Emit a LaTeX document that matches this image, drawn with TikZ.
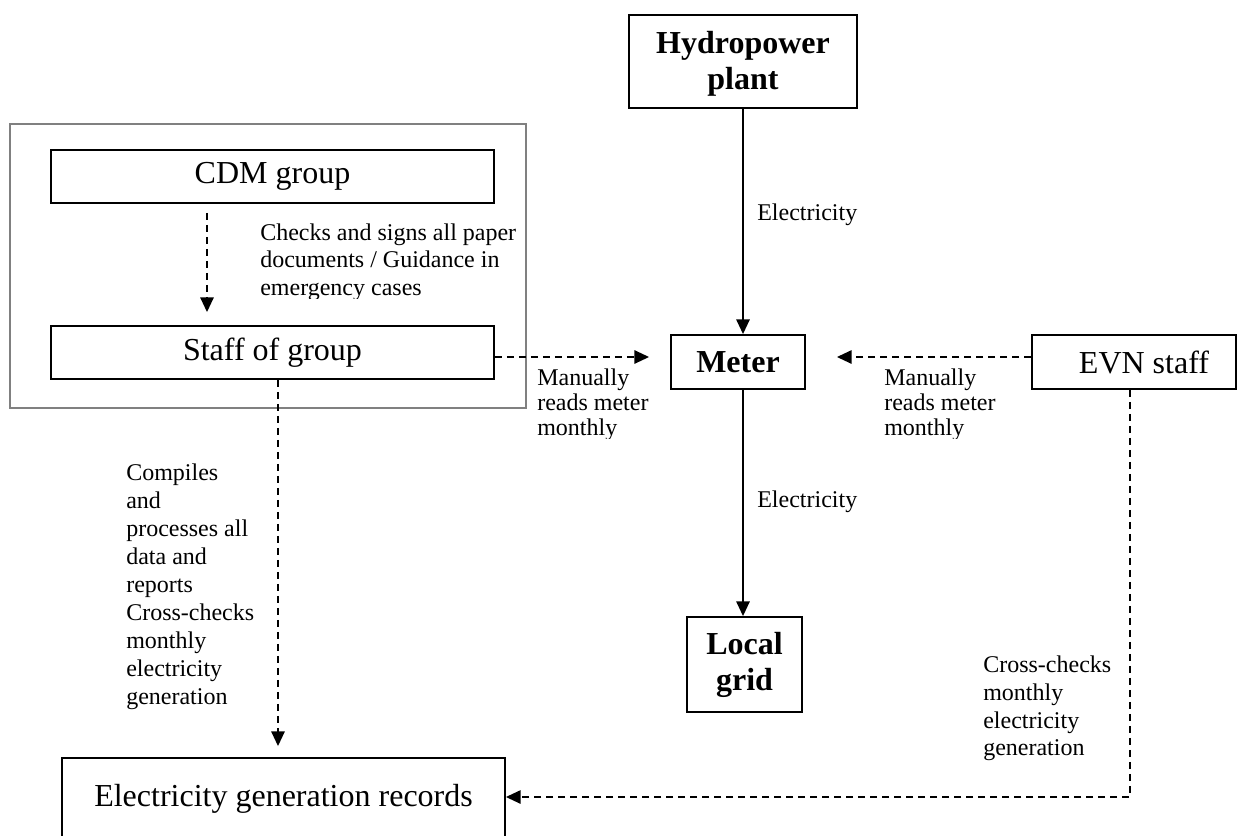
\documentclass[tikz,border=0pt]{standalone}
\usepackage{fontspec}
\setmainfont{Liberation Serif}
\usetikzlibrary{arrows.meta,calc}
\begin{document}
\begin{tikzpicture}[x=0.75pt,y=-0.75pt,
  box/.style={draw=black,line width=1.4pt,inner sep=0pt,align=center},
  big/.style={font=\fontsize{24}{26}\selectfont},
  bigb/.style={font=\fontsize{24}{27}\selectfont\bfseries},
  lbl/.style={inner sep=0pt,align=left,anchor=west},
  flow/.style={line width=1.3pt,-{Triangle[length=11pt,width=10pt]}},
  dflow/.style={flow,dash pattern=on 5.5pt off 3.5pt},
  grp/.style={draw=black!50,line width=1.3pt,inner sep=0pt}]
\useasboundingbox (0,0) rectangle (1237,835);

% group frame
\node[grp,minimum width=387pt,minimum height=213pt] (grp) at (268,266) {};

% boxes
\node[box,big,minimum width=332.25pt,minimum height=39.75pt] (cdm) at (272.5,176.5) {CDM group};
\node[box,big,minimum width=332.25pt,minimum height=39.75pt] (staff) at (272.5,352.5) {Staff of group};
\node[box,bigb,minimum width=171pt,minimum height=69.75pt] (hydro) at (743,61.5) {\rule{0pt}{20pt}Hydropower\\plant};
\node[box,bigb,minimum width=100.5pt,minimum height=40.5pt] (meter) at (738,362) {Meter};
\node[box,bigb,minimum width=86.25pt,minimum height=71.25pt] (grid) at (744.5,664.5) {Local\\grid};
\node[box,big,minimum width=153pt,minimum height=40.5pt] (evn) at (1134,362) {\hspace*{15pt}EVN staff};
\node[box,big,minimum width=332.25pt,minimum height=61.5pt] (rec) at (283.5,799) {Electricity generation records};

% helper coordinates
\coordinate (xa) at (207,0);
\coordinate (ya) at (0,357);
\coordinate (xb) at (278,0);
\coordinate (xc) at (1130,0);
\coordinate (yc) at (0,797);

% connectors
\draw[dflow,shorten <=6.75pt,shorten >=9.75pt] (cdm.south -| xa) -- (staff.north -| xa);
\draw[dflow,shorten >=15.75pt] (staff.east |- ya) -- (meter.west |- ya);
\draw[dflow,shorten >=23.25pt] (evn.west |- ya) -- (meter.east |- ya);
\draw[flow] (hydro.south) -- (hydro.south |- meter.north);
\draw[flow] (hydro.south |- meter.south) -- (hydro.south |- grid.north);
\draw[dflow,shorten >=8.25pt] (staff.south -| xb) -- (rec.north -| xb);
\draw[dflow] (evn.south -| xc) -- (xc |- yc) -- (rec.east |- yc);

% labels
\node[lbl,font=\fontsize{18}{21}\selectfont] (l1) at (757,215) {Electricity};
\node[lbl,font=\fontsize{18}{21}\selectfont] (l2) at (757,502) {Electricity};
\begin{scope}
\clip (250,200) rectangle (540,298);
\node[lbl,font=\fontsize{18}{20.6}\selectfont] (l3) at (260,262) {Checks and signs all paper\\documents / Guidance in\\emergency cases};
\end{scope}
\begin{scope}
\clip (530,360) rectangle (660,438);
\node[lbl,font=\fontsize{18}{18.75}\selectfont] (l4) at (537,405) {Manually\\reads meter\\monthly};
\end{scope}
\begin{scope}
\clip (875,360) rectangle (1030,438);
\node[lbl,font=\fontsize{18}{18.75}\selectfont] (l5) at (884,405) {Manually\\reads meter\\monthly};
\end{scope}
\node[lbl,font=\fontsize{18}{21}\selectfont] (l6) at (126,587) {Compiles\\and\\processes all\\data and\\reports\\Cross-checks\\monthly\\electricity\\generation};
\node[lbl,font=\fontsize{18}{20.8}\selectfont] (l7) at (983,708.5) {Cross-checks\\monthly\\electricity\\generation};
\end{tikzpicture}
\end{document}
